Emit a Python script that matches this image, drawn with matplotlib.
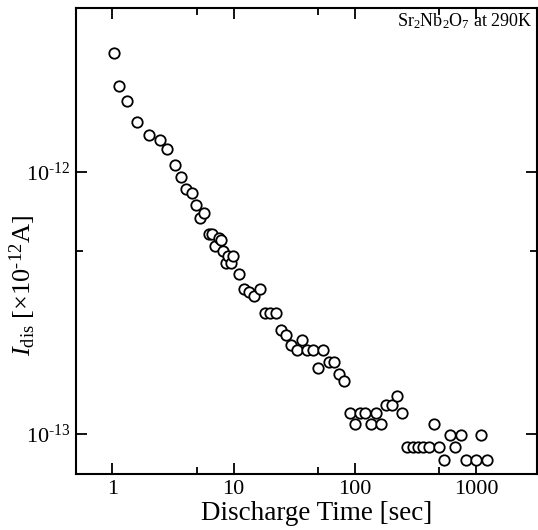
import numpy as np
import matplotlib
matplotlib.use('Agg')
import matplotlib.pyplot as plt
from matplotlib.ticker import FixedLocator, FixedFormatter, NullFormatter

plt.rcParams['font.family'] = ['Liberation Serif', 'DejaVu Serif']
plt.rcParams['mathtext.fontset'] = 'custom'
plt.rcParams['mathtext.rm'] = 'Liberation Serif'
plt.rcParams['mathtext.it'] = 'Liberation Serif:italic'

# discharge time [sec]
t_sec = [1.03, 1.14, 1.31, 1.58, 2.01, 2.46, 2.81, 3.27, 3.67, 4.06, 4.49, 4.91,
         5.30, 5.71, 6.25, 6.57, 6.95, 7.50, 7.90, 8.17, 8.63, 8.90, 9.50, 9.87,
         10.97, 12.2, 13.5, 14.8, 16.5, 18.1, 19.9, 22.2, 24.4, 27.0, 29.9, 33.1,
         36.9, 40.3, 44.9, 49.7, 55.0, 60.8, 67.3, 74.5, 81.9,
         91.2, 99.6, 111, 122, 135, 150, 166, 182, 201, 223, 247,
         271, 300, 332, 368, 407, 451, 499, 548, 611, 672, 748, 822, 1000, 1109, 1225]
# discharge current [x1e-12 A]
i_dis = [2.85, 2.13, 1.87, 1.56, 1.38, 1.33, 1.23, 1.06, 0.96, 0.861, 0.83, 0.75,
         0.67, 0.70, 0.58, 0.58, 0.52, 0.56, 0.55, 0.50, 0.449, 0.48, 0.449, 0.48,
         0.409, 0.357, 0.349, 0.337, 0.357, 0.289, 0.289, 0.289, 0.249, 0.238, 0.219, 0.209,
         0.229, 0.209, 0.209, 0.179, 0.209, 0.189, 0.189, 0.169, 0.159,
         0.120, 0.109, 0.120, 0.120, 0.109, 0.120, 0.109, 0.129, 0.129, 0.140, 0.120,
         0.089, 0.089, 0.089, 0.089, 0.089, 0.109, 0.089, 0.0796, 0.0993, 0.089, 0.0993,
         0.0796, 0.0796, 0.0993, 0.0796]
i_dis = np.array(i_dis) * 1e-12

fig = plt.figure(figsize=(5.38, 5.30), dpi=100)
ax = fig.add_axes([0.1413, 0.1057, 0.856, 0.879])

ax.plot(t_sec, i_dis, 'o', mfc='white', mec='black', ms=7.5, mew=1.3, ls='none')

ax.set_xscale('log')
ax.set_yscale('log')
ax.set_xlim(0.5, 3162)
ax.set_ylim(7.03e-14, 4.23e-12)

ax.xaxis.set_major_locator(FixedLocator([1, 10, 100, 1000]))
ax.xaxis.set_major_formatter(FixedFormatter(['1', '10', '100', '1000']))
ax.xaxis.set_minor_locator(FixedLocator([5, 50, 500]))
ax.xaxis.set_minor_formatter(NullFormatter())
ax.yaxis.set_major_locator(FixedLocator([1e-13, 1e-12]))
ax.yaxis.set_major_formatter(FixedFormatter([r'10$^{\text{-13}}$', r'10$^{\text{-12}}$']))
ax.yaxis.set_minor_locator(FixedLocator([5e-13]))
ax.yaxis.set_minor_formatter(NullFormatter())

ax.tick_params(which='both', direction='in', top=True, right=True, labelsize=16, width=1.3)
ax.tick_params(which='major', length=8, pad=4)
ax.tick_params(which='minor', length=5)
for s in ax.spines.values():
    s.set_linewidth(1.5)

ax.set_xlabel('Discharge Time [sec]', fontsize=19.5)
ax.xaxis.set_label_coords(0.523, -0.058)
ax.set_ylabel(r'$I_{\rm dis}$ [$\times$10$^{\text{-12}}$A]', fontsize=19)
ax.yaxis.set_label_coords(-0.083, 0.405)

ax.text(0.992, 0.993, r'Sr$_2$Nb$_2$O$_7$ at 290K', transform=ax.transAxes,
        ha='right', va='top', fontsize=13)

fig.savefig('out.png', dpi=100)
